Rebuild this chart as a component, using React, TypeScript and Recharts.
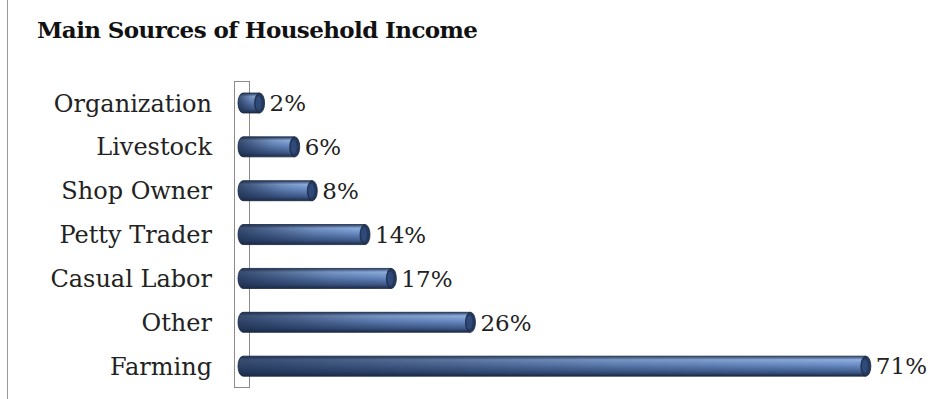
import React from 'react';
import { BarChart, Bar, XAxis, YAxis, LabelList } from 'recharts';

const categories = ['Organization', 'Livestock', 'Shop Owner', 'Petty Trader', 'Casual Labor', 'Other', 'Farming'];
const shares = [2, 6, 8, 14, 17, 26, 71];

const data = categories.map((name, i) => ({ name, value: shares[i] }));

const serif = '"DejaVu Serif", "Liberation Serif", serif';

// horizontal cylinder drawn from the bar rect
const Cylinder = (props: any) => {
    const { x, y, width, height } = props;
    const left = x - 8;
    const rx = 5;
    const right = x + width - rx + 1;
    const ry = height / 2;
    const cy = y + ry;
    const body = `M${left + rx},${y} L${right},${y} L${right},${y + height} L${left + rx},${y + height} A${rx},${ry} 0 0 1 ${left + rx},${y} Z`;
    return (
        <g>
            <path d={body} fill="url(#cylBody)" stroke="#1c2a44" strokeWidth={0.8} />
            <path d={body} fill="url(#cylShade)" />
            <ellipse cx={right} cy={cy} rx={rx} ry={ry} fill="#24385c" stroke="#1a2740" strokeWidth={0.8} />
            <ellipse cx={right - 1} cy={cy} rx={rx - 2} ry={ry - 3} fill="#2f4a78" />
        </g>
    );
};

const renderValue = (props: any) => {
    const { x, y, width, height, value } = props;
    return (
        <text x={x + width + 6} y={y + height / 2} dy="0.36em" fontFamily={serif} fontSize={23} fill="#222">
            {value}%
        </text>
    );
};

const renderTick = (props: any) => {
    const { y, payload } = props;
    return (
        <text x={212} y={y} dy="0.36em" textAnchor="end" fontFamily={serif} fontSize={24} fill="#222">
            {payload.value}
        </text>
    );
};

export default function App() {
    return (
        <div style={{ position: 'absolute', left: 0, top: 0, width: 932, height: 399, background: '#fff' }}>
            <div style={{ position: 'absolute', left: 7, top: 0, width: 1, height: 399, background: '#9a9a9a' }} />
            <div
                style={{
                    position: 'absolute',
                    left: 37,
                    top: 16,
                    fontFamily: serif,
                    fontWeight: 'bold',
                    fontSize: 23,
                    letterSpacing: -0.6,
                    color: '#111',
                    whiteSpace: 'nowrap',
                }}
            >
                Main Sources of Household Income
            </div>
            {/* back wall of the 3D axis */}
            <div
                style={{
                    position: 'absolute',
                    left: 234,
                    top: 81,
                    width: 14,
                    height: 305,
                    border: '1.5px solid #8c8c8c',
                }}
            />
            <div style={{ position: 'absolute', left: 0, top: 0 }}>
                <BarChart
                    width={932}
                    height={399}
                    data={data}
                    layout="vertical"
                    margin={{ top: 81, right: 27, bottom: 11, left: 0 }}
                    barSize={20}
                >
                    <defs>
                        <linearGradient id="cylBody" x1="0" y1="0" x2="0" y2="1">
                            <stop offset="0%" stopColor="#2c3f62" />
                            <stop offset="18%" stopColor="#8fb0e0" />
                            <stop offset="45%" stopColor="#6a8cc4" />
                            <stop offset="80%" stopColor="#3e5a8a" />
                            <stop offset="100%" stopColor="#1d2b46" />
                        </linearGradient>
                        <linearGradient id="cylShade" x1="0" y1="0" x2="1" y2="0">
                            <stop offset="0%" stopColor="#1a2a48" stopOpacity={0.75} />
                            <stop offset="60%" stopColor="#1a2a48" stopOpacity={0.2} />
                            <stop offset="100%" stopColor="#1a2a48" stopOpacity={0} />
                        </linearGradient>
                    </defs>
                    <XAxis type="number" domain={[0, 75]} hide />
                    <YAxis
                        type="category"
                        dataKey="name"
                        width={246}
                        axisLine={false}
                        tickLine={false}
                        tick={renderTick}
                        interval={0}
                    />
                    <Bar dataKey="value" shape={Cylinder} isAnimationActive={false}>
                        <LabelList dataKey="value" content={renderValue} />
                    </Bar>
                </BarChart>
            </div>
        </div>
    );
}
